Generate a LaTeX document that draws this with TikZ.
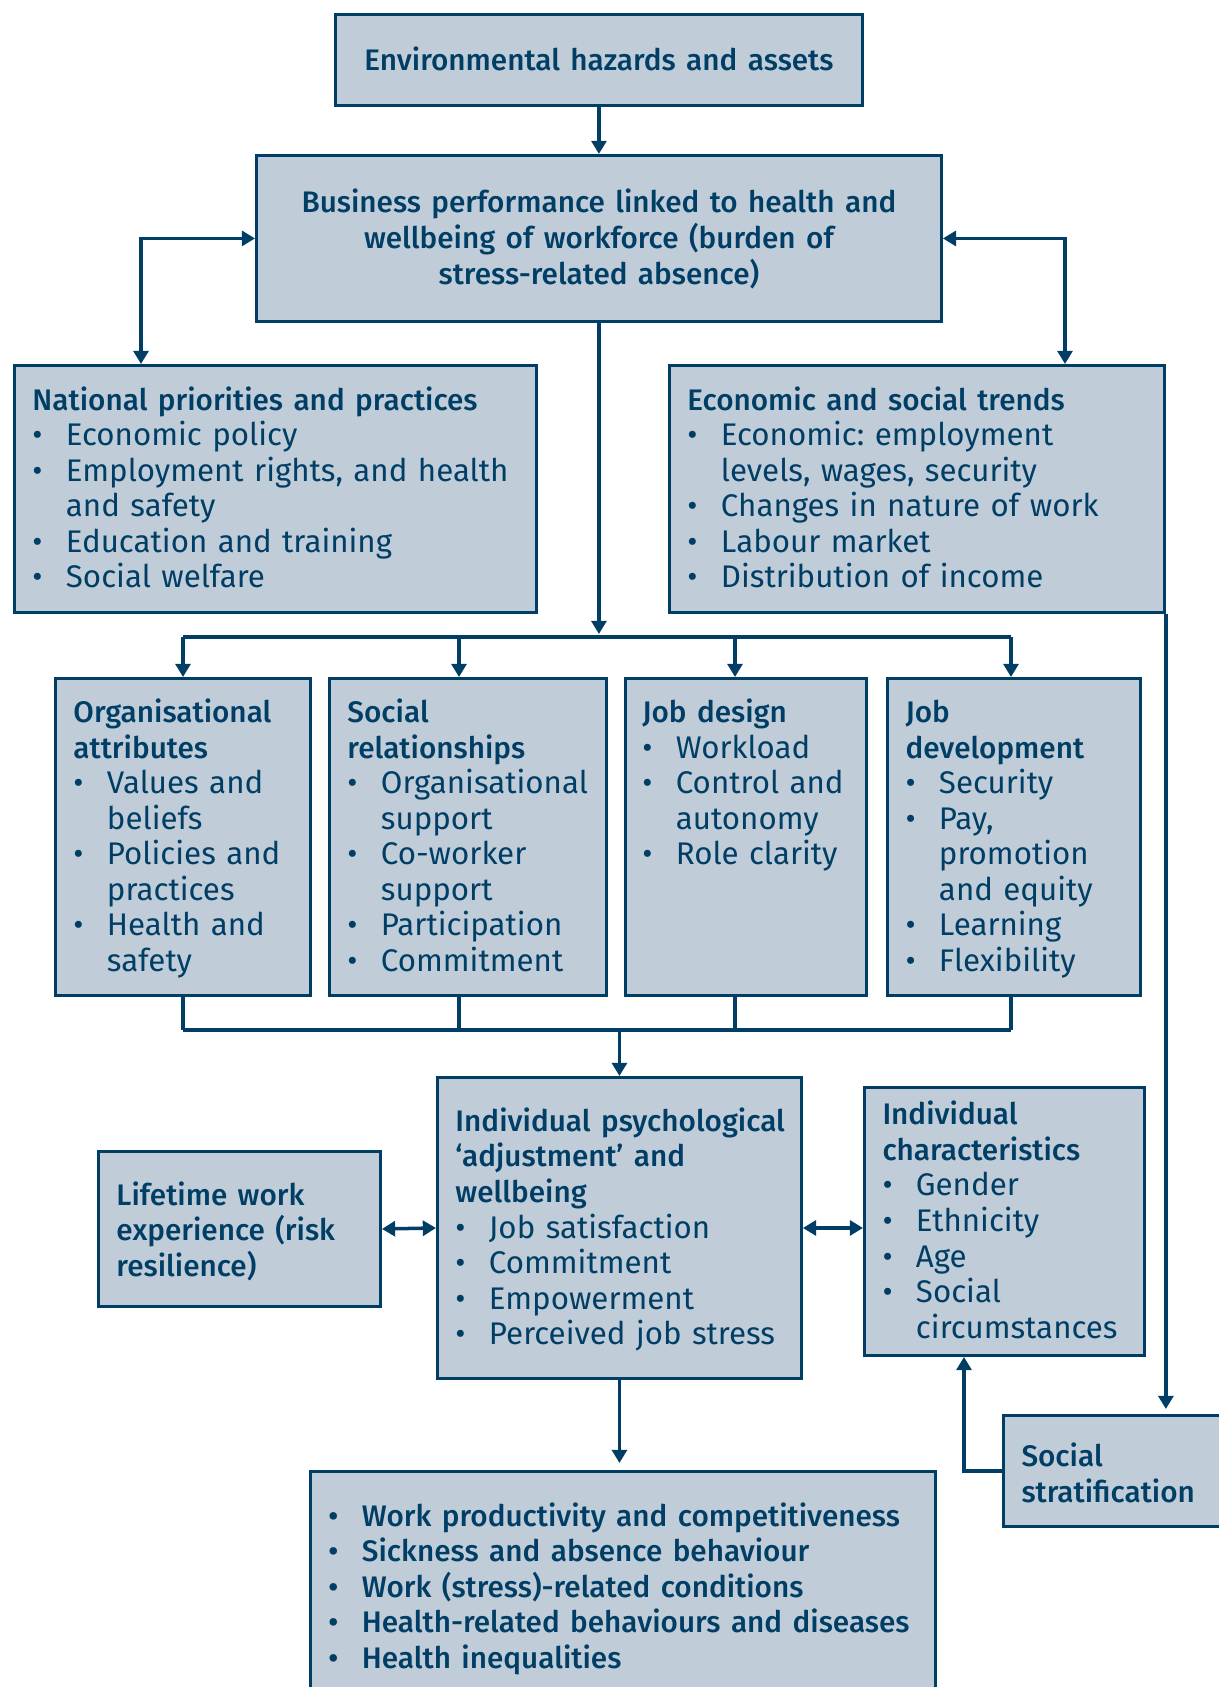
\documentclass[tikz,border=0pt]{standalone}
\usepackage{fontspec}
\setmainfont{Fira Sans}[BoldFont={Fira Sans Medium},BoldFeatures={Scale=0.95}]
\usetikzlibrary{arrows.meta,positioning,calc}

\definecolor{boxfill}{RGB}{192,205,216}
\definecolor{ink}{RGB}{0,62,102}

% line strut, bullet line and its continuation
\newcommand\sst{\rule[-4.4pt]{0pt}{20.24pt}}
\newcommand\itm{\par\noindent\sst\makebox[0.67cm][l]{•}}
\newcommand\cnt{\par\noindent\sst\hspace*{0.67cm}}
\newcommand\hd[1]{\sst\textbf{#1}}

\begin{document}
\frenchspacing
\begin{tikzpicture}[x=0.02cm,y=-0.02cm,
    font=\fontsize{17.8}{20.24}\selectfont,
    box/.style={rectangle,draw=ink,fill=boxfill,line width=1.7pt,text=ink,
      inner xsep=0.36cm,inner ysep=0pt,align=left},
    txt/.style={text=ink,inner sep=0pt,align=left},
    line/.style={draw=ink,line width=2pt},
    arr/.style={line,-{Triangle[length=7.5pt,width=8.5pt]}},
    biarr/.style={line,{Triangle[length=7.5pt,width=8.5pt]}-{Triangle[length=7.5pt,width=8.5pt]}},
    busline/.style={line,line width=2.6pt}]

  \useasboundingbox (0,0) rectangle (1219,1687);
  \clip (0,0) rectangle (1219,1687);

  \node[box,align=center,text width=9.82cm,minimum height=1.82cm,anchor=north west] (env) at (334,13)
    {\hd{Environmental hazards and assets}};
  \node[box,align=center,text width=12.98cm,minimum height=3.32cm] (bus) [below=0.94cm of env]
    {\hd{Business performance linked to health and\\\sst wellbeing of workforce (burden of\\\sst stress-related absence)}};

  \node[box,text width=9.72cm,minimum height=4.94cm,anchor=north west] (nat) at (13,364)
    {\hd{National priorities and practices}
     \itm Economic policy
     \itm Employment rights, and health \cnt and safety
     \itm Education and training
     \itm Social welfare};
  \node[box,text width=9.18cm,minimum height=4.94cm,anchor=north west] (econ) at (668,364)
    {\hd{Economic and social trends}
     \itm Economic: employment \cnt levels, wages, security
     \itm Changes in nature of work
     \itm Labour market
     \itm Distribution of income};

  \node[box,text width=4.38cm,minimum height=6.34cm,anchor=north west] (org) at (54,677)
    {\hd{Organisational\\attributes}
     \itm Values and \cnt beliefs
     \itm Policies and \cnt practices
     \itm Health and \cnt safety};
  \node[box,text width=4.82cm,minimum height=6.34cm,anchor=north west] (soc) at (328,677)
    {\hd{Social\\relationships}
     \itm Organisational \cnt support
     \itm Co-worker \cnt support
     \itm Participation
     \itm Commitment};
  \node[box,text width=4.10cm,minimum height=6.34cm,anchor=north west] (jd) at (624,677) {};
  \node[txt,text width=4.10cm,anchor=base west] (jdtxt) at ($(jd.west |- org.base)+(18,0)$)
    {\hd{Job design}
     \itm Workload
     \itm Control and \cnt autonomy
     \itm Role clarity};
  \node[box,text width=4.34cm,minimum height=6.34cm,anchor=north west] (jdev) at (886,677)
    {\hd{Job\\development}
     \itm Security
     \itm Pay, \cnt promotion \cnt and equity
     \itm Learning
     \itm Flexibility};

  \node[box,text width=6.56cm,minimum height=6.02cm,anchor=north west] (psy) at (436,1076)
    {\hd{\mbox{Individual psychological}\\‘adjustment’ and\\wellbeing}
     \itm Job satisfaction
     \itm Commitment
     \itm Empowerment
     \itm Perceived job stress};
  \node[box,text width=4.92cm,minimum height=3.1cm,anchor=north west] (life) at (97,1150)
    {\hd{Lifetime work\\experience (risk\\resilience)}};
  \node[box,text width=4.88cm,minimum height=5.36cm,anchor=north west] (chr) at (863,1086)
    {\hd{Individual\\characteristics}
     \itm Gender
     \itm Ethnicity
     \itm Age
     \itm Social \cnt circumstances};
  \node[box,text width=4.04cm,minimum height=2.22cm,anchor=north west] (strat) at (1002,1414)
    {\hd{Social\\stratification}};
  \node[box,text width=11.78cm,minimum height=4.48cm,anchor=north west] (out) at (309,1470)
    {\bfseries
     \itm Work productivity and competitiveness
     \itm Sickness and absence behaviour
     \itm Work (stress)-related conditions
     \itm Health-related behaviours and diseases
     \itm Health inequalities};

  % top of the diagram
  \draw[arr] (env) -- (bus);
  \draw[biarr] (bus.west) -| ($(nat.north west)+(128,0)$);
  \draw[biarr] (bus.east) -| ($(econ.north west)+(397,0)$);

  % split to the four work boxes and join again
  \foreach \i in {0,...,3} {
    \coordinate (t\i) at ({183+276*\i},637);
    \coordinate (b\i) at ({183+276*\i},1030);
  }
  \draw[arr] (bus.south) -- (bus.south |- 0,634);
  \draw[busline] (t0) -- (t3);
  \draw[busline] (b0) -- (b3);
  \foreach \b [count=\i from 0] in {org,soc,jd,jdev} {
    \draw[arr] (t\i) -- (t\i |- \b.north);
    \draw[line] (t\i |- \b.south) -- (b\i);
  }
  \draw[arr] (b0 -| psy.north) -- (psy.north);

  % around the individual
  \draw[biarr] (life.east) -- (psy.west);
  \draw[biarr] (psy.east) -- (psy.east -| chr.west);
  \draw[arr,shorten >=0.14cm] (psy.south) -- (psy.south |- out.north);
  \draw[arr,shorten >=0.1cm] (econ.south east) -- (econ.south east |- strat.north);
  \draw[arr,line width=2.6pt] (strat.west) -| ($(chr.south west)+(101,0)$);

\end{tikzpicture}
\end{document}
